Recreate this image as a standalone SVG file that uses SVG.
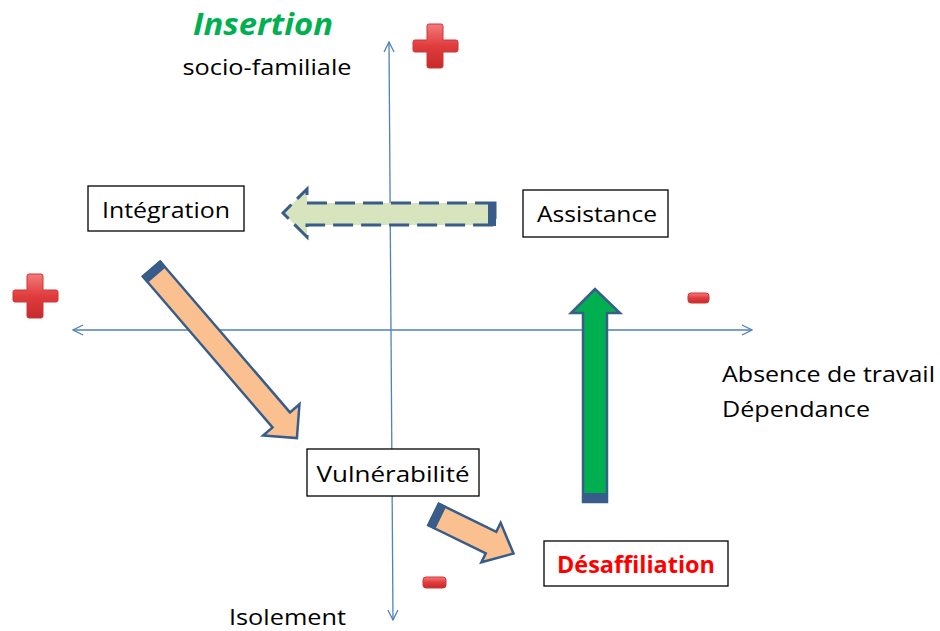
<svg xmlns="http://www.w3.org/2000/svg" width="940" height="631" viewBox="0 0 940 631">
<defs>
<linearGradient id="red" x1="0" y1="0" x2="0" y2="1">
<stop offset="0" stop-color="#F47A7A"/>
<stop offset="0.5" stop-color="#E03C3E"/>
<stop offset="1" stop-color="#C62A2C"/>
</linearGradient>
<marker id="ah" viewBox="0 0 12 12" refX="11" refY="6" markerWidth="12" markerHeight="12" markerUnits="userSpaceOnUse" orient="auto">
<path d="M1,1 L11,6 L1,11" fill="none" stroke="#4F81BD" stroke-width="1.3"/>
</marker>
</defs>
<style>
.axis{stroke:#4F81BD;stroke-width:1.3;fill:none}
.box{fill:#fff;stroke:#000;stroke-width:1.3}
.t{font-family:"Open Sans","Liberation Sans",sans-serif;fill:#000}
.lbl{font-size:22.5px;text-anchor:middle}
.sign{fill:url(#red);stroke:#D03536;stroke-width:1}
.blk{stroke:#385D8A;stroke-width:2.5;stroke-linejoin:miter}
.cap{fill:#385D8A}
</style>
<rect width="940" height="631" fill="#fff"/>

<g id="connectors">
<line class="axis" x1="391" y1="330" x2="389" y2="42" marker-end="url(#ah)"/>
<line class="axis" x1="391" y1="330" x2="393" y2="620" marker-end="url(#ah)"/>
<line class="axis" x1="391" y1="330" x2="73" y2="330" marker-end="url(#ah)"/>
<line class="axis" x1="391" y1="330" x2="752" y2="330" marker-end="url(#ah)"/>
</g>

<g id="arrow-assistance-integration">
<path d="M495,203 L307,203 L307,189 L283,213 L307,237 L307,225 L495,225 Z" fill="#D7E4BD" stroke="#385D8A" stroke-width="3" stroke-dasharray="20,8"/>
<rect class="cap" x="488" y="202" width="8" height="24"/>
</g>

<g id="arrow-integration-vulnerabilite" transform="translate(151.5,269) rotate(49.3)">
<path class="blk" d="M0,-11.5 L199,-11.5 L199,-24 L223,0 L199,24 L199,11.5 L0,11.5 Z" fill="#FAC090"/>
<rect class="cap" x="-1" y="-12.5" width="9" height="25"/>
</g>

<g id="arrow-vulnerabilite-desaffiliation" transform="translate(433.5,514.5) rotate(26)">
<path class="blk" d="M0,-12 L64,-12 L64,-22 L89,0 L64,22 L64,12 L0,12 Z" fill="#FAC090"/>
<rect class="cap" x="-1" y="-13" width="9" height="26"/>
</g>

<g id="arrow-desaffiliation-assistance">
<path class="blk" d="M583,502 L583,313 L571,313 L595,289 L620,313 L607,313 L607,502 Z" fill="#00B050"/>
<rect class="cap" x="582" y="493" width="26" height="10"/>
</g>

<g id="node-integration">
<rect class="box" x="88" y="186" width="156" height="45"/>
<text class="t lbl" x="166" y="218" textLength="128" lengthAdjust="spacingAndGlyphs">Intégration</text>
</g>
<g id="node-assistance">
<rect class="box" x="523" y="190" width="145" height="47"/>
<text class="t lbl" x="597" y="222" textLength="120" lengthAdjust="spacingAndGlyphs">Assistance</text>
</g>
<g id="node-vulnerabilite">
<rect class="box" x="307" y="449" width="172" height="47"/>
<text class="t lbl" x="393" y="482" textLength="153" lengthAdjust="spacingAndGlyphs">Vulnérabilité</text>
</g>
<g id="node-desaffiliation">
<rect class="box" x="544" y="541" width="184" height="45"/>
<text class="t lbl" x="636" y="573" textLength="158" lengthAdjust="spacingAndGlyphs" style="fill:#FF0000;font-weight:bold">Désaffiliation</text>
</g>

<g id="labels">
<text class="t" x="263" y="35" font-size="30" font-weight="bold" font-style="italic" text-anchor="middle" style="fill:#00B050" textLength="140" lengthAdjust="spacingAndGlyphs">Insertion</text>
<text class="t" x="267" y="75" font-size="22.5" text-anchor="middle" textLength="169" lengthAdjust="spacingAndGlyphs">socio-familiale</text>
<text class="t" x="722" y="382" font-size="22.5" textLength="213" lengthAdjust="spacingAndGlyphs">Absence de travail</text>
<text class="t" x="722" y="417" font-size="22.5" textLength="148" lengthAdjust="spacingAndGlyphs">Dépendance</text>
<text class="t" x="229" y="625" font-size="22.5" textLength="117" lengthAdjust="spacingAndGlyphs">Isolement</text>
</g>

<g id="signs">
<path class="sign" d="M429,24 h12 a2,2 0 0 1 2,2 v14 h13 a2,2 0 0 1 2,2 v8 a2,2 0 0 1 -2,2 h-13 v14 a2,2 0 0 1 -2,2 h-12 a2,2 0 0 1 -2,-2 v-14 h-12 a2,2 0 0 1 -2,-2 v-8 a2,2 0 0 1 2,-2 h12 v-14 a2,2 0 0 1 2,-2 z"/>
<path class="sign" d="M29,274 h12 a2,2 0 0 1 2,2 v14 h13 a2,2 0 0 1 2,2 v8 a2,2 0 0 1 -2,2 h-13 v14 a2,2 0 0 1 -2,2 h-12 a2,2 0 0 1 -2,-2 v-14 h-12 a2,2 0 0 1 -2,-2 v-8 a2,2 0 0 1 2,-2 h12 v-14 a2,2 0 0 1 2,-2 z"/>
<rect class="sign" x="688" y="293" width="21" height="10" rx="3"/>
<rect class="sign" x="423" y="577" width="23" height="11" rx="3"/>
</g>
</svg>
